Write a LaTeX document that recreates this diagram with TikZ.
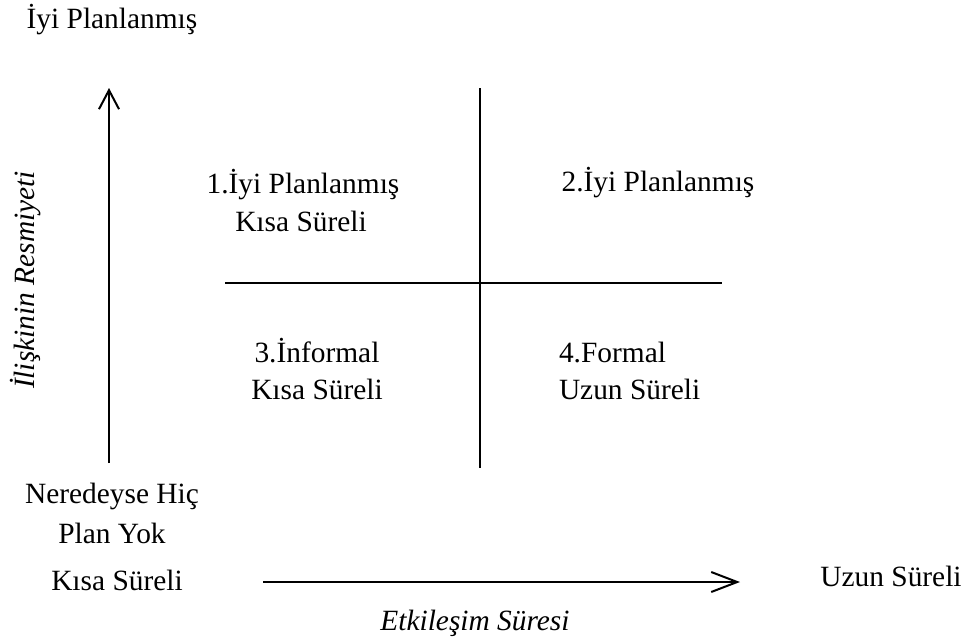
\documentclass[tikz,border=0pt]{standalone}
\usepackage{fontspec}
\setmainfont{Liberation Serif}
\usetikzlibrary{arrows.meta}
\begin{document}
\begin{tikzpicture}[x=0.5pt,y=-0.5pt,
  every node/.style={inner sep=0pt,outer sep=0pt,font=\fontsize{14.7}{17.5}\selectfont},
  lbl/.style={anchor=base},
  lblw/.style={anchor=base west},
  ital/.style={font=\fontsize{14.7}{17.5}\selectfont\itshape},
  axisline/.style={line width=1pt},
  vaxis/.style={axisline,-{Straight Barb[length=9.5pt,width=10pt,line width=1pt]}},
  haxis/.style={axisline,-{Straight Barb[length=13pt,width=10pt,line width=1pt]}},
  quadline/.style={line width=1pt}]
  \useasboundingbox (0,0) rectangle (965,643);

  % vertical axis: formality of the relationship
  \coordinate (vbot) at (109,463);
  \coordinate (vtop) at (109,88);
  \draw[vaxis] (vbot) -- (vtop);
  \node[lbl] (top) at (112,28) {İyi Planlanmış};
  \node[ital,rotate=90,anchor=base] (vlabel) at (34,280) {İlişkinin Resmiyeti};

  % quadrant cross
  \coordinate (qt) at (480,88);
  \coordinate (qb) at (480,468);
  \coordinate (ql) at (225,283);
  \coordinate (qr) at (722,283);
  \draw[quadline] (qt) -- (qb);
  \draw[quadline] (ql) -- (qr);

  % quadrant texts
  \node[lbl] (q1a) at (303,193) {1.İyi Planlanmış};
  \node[lbl] (q1b) at (301,231) {Kısa Süreli};
  \node[lbl] (q2a) at (658,191) {2.İyi Planlanmış};
  \node[lbl] (q3a) at (317,362) {3.İnformal};
  \node[lbl] (q3b) at (317,399) {Kısa Süreli};
  \node[lblw] (q4a) at (559,362) {4.Formal};
  \node[lblw] (q4b) at (559,399) {Uzun Süreli};

  % lower left texts
  \node[lbl] (low1) at (112,503) {Neredeyse Hiç};
  \node[lbl] (low2) at (112,543) {Plan Yok};
  \node[lbl] (short) at (117,590) {Kısa Süreli};

  % horizontal axis: duration of interaction
  \coordinate (hl) at (263,582);
  \coordinate (hr) at (740,582);
  \draw[haxis] (hl) -- (hr);
  \node[lbl] (long) at (891,586) {Uzun Süreli};
  \node[ital,lbl] (hlabel) at (475,630) {Etkileşim Süresi};
\end{tikzpicture}
\end{document}
